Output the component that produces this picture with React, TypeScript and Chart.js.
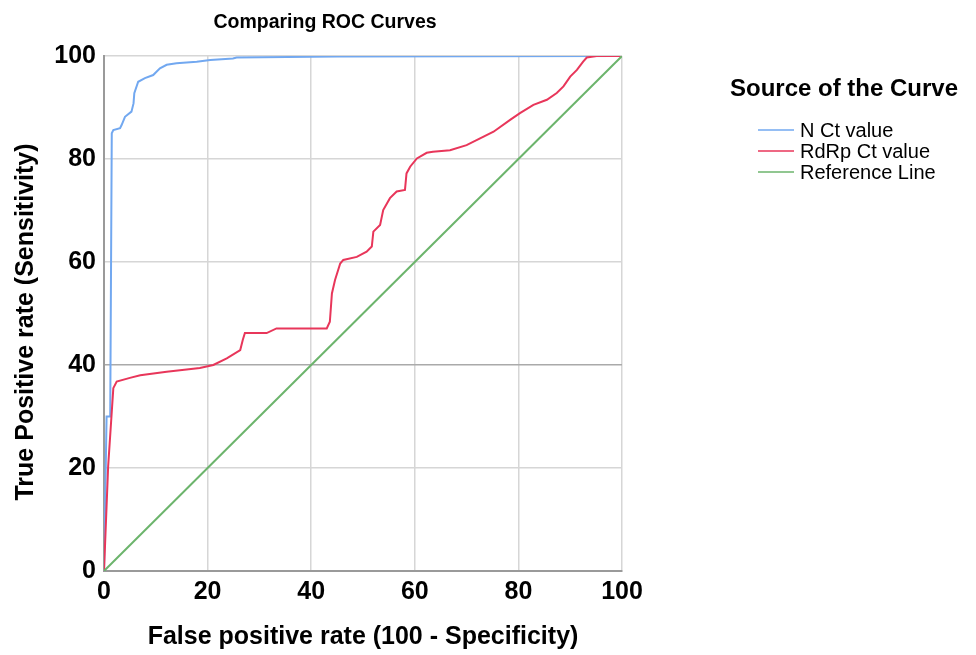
import React, { useEffect, useRef } from "react";
import { Chart, registerables } from "chart.js";

Chart.register(...registerables);

const chartTitle = "Comparing ROC Curves";
const legendTitle = "Source of the Curve";
const seriesNames = ["N Ct value", "RdRp Ct value", "Reference Line"];
const seriesColors = ["#72a8f0", "#e8365a", "#6cb46c"];
const xTitle = "False positive rate (100 - Specificity)";
const yTitle = "True Positive rate (Sensitivity)";
const tickValues = [0, 20, 40, 60, 80, 100];

const nX = [0, 0.5, 1.2, 1.5, 1.8, 3.1, 3.4, 4.05, 5.3, 5.7, 5.85, 6.6, 7.9, 9.5, 10.8, 12.1, 14, 17.9, 20.5, 24.9, 25.6, 45, 100];
const nY = [0, 30, 30, 85, 85.6, 86, 86.6, 88.2, 89.2, 90.8, 92.8, 95, 95.7, 96.3, 97.6, 98.3, 98.6, 98.9, 99.2, 99.5, 99.7, 99.9, 100];

const rX = [0, 0.8, 1.8, 2.45, 5, 7, 12.1, 18.5, 21.1, 23.7, 26.3, 26.8, 27.2, 31.4, 33.3, 43, 43.6, 44, 44.6, 45.6, 46.2, 48.8, 50.7, 51.7, 52, 53.3, 53.9, 55.2, 56.5, 58.1, 58.4, 59.1, 60.4, 62.3, 63.5, 66.8, 70, 72.6, 75.2, 78.4, 80.3, 82.9, 85.5, 87.4, 88.7, 90, 91.3, 92.5, 93.2, 95.1, 100];
const rY = [0, 20.3, 35.5, 36.8, 37.5, 38, 38.7, 39.4, 40, 41.3, 42.9, 44.9, 46.2, 46.2, 47.1, 47.1, 48.4, 53.9, 56.5, 59.7, 60.4, 61, 62, 63, 65.9, 67.2, 70.1, 72.4, 73.7, 74, 77.2, 78.5, 80.1, 81.2, 81.4, 81.7, 82.7, 84, 85.3, 87.6, 88.9, 90.5, 91.5, 92.8, 94.1, 96, 97.3, 98.9, 99.7, 100, 100];

const refX = [0, 100];
const refY = [0, 100];

const toPoints = (xs: number[], ys: number[]) => xs.map((x, i) => ({ x, y: ys[i] }));

const FONT = "'Liberation Sans', Arial, Helvetica, sans-serif";

const overlayPlugin = {
  id: "overlay",
  afterDraw(chart: any) {
    const ctx = chart.ctx;
    ctx.save();
    ctx.fillStyle = "#000";
    ctx.textBaseline = "middle";
    ctx.textAlign = "center";
    ctx.font = `bold 19.5px ${FONT}`;
    ctx.fillText(chartTitle, 325, 23);
    ctx.font = `bold 24px ${FONT}`;
    ctx.fillText(legendTitle, 844, 89);
    ctx.save();
    ctx.translate(26, 322);
    ctx.rotate(-Math.PI / 2);
    ctx.font = `bold 25px ${FONT}`;
    ctx.fillText(yTitle, 0, 0);
    ctx.restore();
    ctx.textAlign = "left";
    ctx.font = `20px ${FONT}`;
    seriesNames.forEach((name, i) => {
      const y = 130 + i * 21;
      ctx.strokeStyle = seriesColors[i];
      ctx.lineWidth = 1.6;
      ctx.beginPath();
      ctx.moveTo(758, y);
      ctx.lineTo(794, y);
      ctx.stroke();
      ctx.fillStyle = "#000";
      ctx.fillText(name, 800, y + 1);
    });
    ctx.restore();
  },
};

export default function App() {
  const ref = useRef<HTMLCanvasElement | null>(null);
  useEffect(() => {
    document.body.style.margin = "0";
    const canvas = ref.current!;
    const chart = new Chart(canvas, {
      type: "scatter",
      data: {
        datasets: [
          { label: seriesNames[0], data: toPoints(nX, nY), borderColor: seriesColors[0] },
          { label: seriesNames[1], data: toPoints(rX, rY), borderColor: seriesColors[1] },
          { label: seriesNames[2], data: toPoints(refX, refY), borderColor: seriesColors[2] },
        ].map((d, i) => ({
          ...d,
          showLine: true,
          borderWidth: 2,
          pointRadius: 0,
          tension: 0,
          fill: false,
          order: 2 - i,
        })),
      },
      options: {
        animation: false,
        responsive: false,
        layout: { padding: { top: 56, right: 354, left: 0, bottom: 0 } },
        plugins: { legend: { display: false }, tooltip: { enabled: false }, title: { display: false } },
        scales: {
          x: {
            type: "linear",
            min: 0,
            max: 100,
            afterFit: (s: any) => { s.height = 84; },
            afterBuildTicks: (s: any) => { s.ticks = tickValues.map((v) => ({ value: v })); },
            grid: { color: "#d6d6d6", lineWidth: 1.5, drawTicks: false },
            border: { color: "#9a9a9a", width: 2 },
            ticks: { color: "#000", padding: 6, font: { family: FONT, size: 25, weight: "bold" } },
            title: { display: true, text: xTitle, color: "#000", padding: { top: 0, bottom: 3 }, font: { family: FONT, size: 25, weight: "bold" } },
          },
          y: {
            type: "linear",
            min: 0,
            max: 100,
            afterFit: (s: any) => { s.width = 104; },
            afterBuildTicks: (s: any) => { s.ticks = tickValues.map((v) => ({ value: v })); },
            grid: { color: (c: any) => (c.tick && c.tick.value === 40 ? "#aaaaaa" : "#d6d6d6"), lineWidth: 1.5, drawTicks: false },
            border: { color: "#9a9a9a", width: 2 },
            ticks: { color: "#000", padding: 8, font: { family: FONT, size: 25, weight: "bold" } },
            title: { display: false },
          },
        },
      },
      plugins: [overlayPlugin],
    } as any);
    return () => chart.destroy();
  }, []);
  return (
    <div style={{ width: 976, height: 655, background: "#fff" }}>
      <canvas ref={ref} width={976} height={655} style={{ display: "block" }} />
    </div>
  );
}
